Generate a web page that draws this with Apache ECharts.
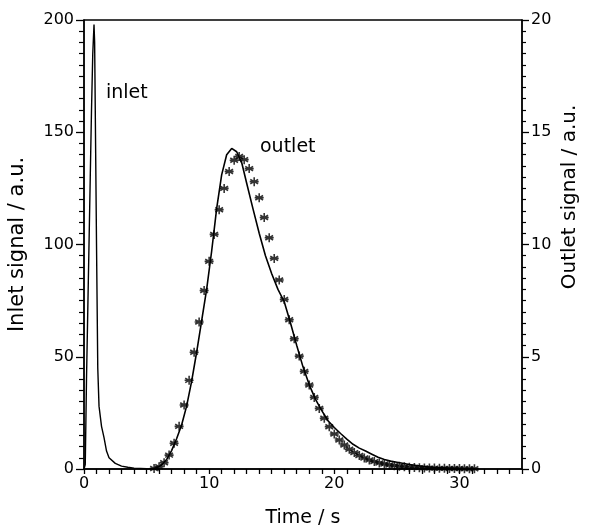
<!DOCTYPE html>
<html>
<head>
<meta charset="utf-8">
<script src="https://cdn.jsdelivr.net/npm/echarts@6/dist/echarts.min.js"></script>
<style>html,body{margin:0;padding:0;background:#fff;}#c{width:592px;height:529px;}</style>
</head>
<body>
<div id="c"></div>
<script>
// Inlet signal (left axis)
var inletTime  = [0, 0.1, 0.2, 0.3, 0.4, 0.5, 0.6, 0.7, 0.8, 0.85, 0.9, 1.0, 1.1, 1.2, 1.4, 1.6, 1.8, 2.0, 2.5, 3.0, 3.5, 4.0, 5.0, 6.0];
var inletValue = [0, 2, 40, 70, 100, 130, 160, 185, 198, 190, 160, 100, 45, 28, 19, 14, 8, 5, 2.5, 1.3, 0.8, 0.4, 0.1, 0];

// Outlet model curve (right axis)
var modelTime  = [5.4, 5.8, 6.2, 6.6, 7.0, 7.4, 7.8, 8.2, 8.6, 9.0, 9.4, 9.8, 10.2, 10.6, 11.0, 11.4, 11.8, 12.2, 12.6, 13.0, 13.5, 14.0, 14.5, 15.0, 15.5, 16.0, 16.5, 17.0, 17.5, 18.0, 18.5, 19.0, 19.5, 20.0, 20.5, 21.0, 21.5, 22.0, 22.5, 23.0, 23.5, 24.0, 24.5, 25.0, 26.0, 27.0, 28.0, 29.0, 30.0, 31.2];
var modelValue = [0, 0.05, 0.18, 0.42, 0.82, 1.35, 1.96, 2.8, 3.9, 5.2, 6.6, 8.0, 9.7, 11.6, 13.1, 14.0, 14.28, 14.13, 13.65, 12.73, 11.6, 10.5, 9.5, 8.7, 8.0, 7.45, 6.5, 5.5, 4.55, 3.75, 3.1, 2.6, 2.15, 1.85, 1.58, 1.33, 1.1, 0.93, 0.8, 0.66, 0.52, 0.42, 0.35, 0.3, 0.2, 0.12, 0.07, 0.04, 0.02, 0.01];

// Outlet measured points (right axis)
var measTime  = [5.6, 6.0, 6.4, 6.8, 7.2, 7.6, 8.0, 8.4, 8.8, 9.2, 9.6, 10.0, 10.4, 10.8, 11.2, 11.6, 12.0, 12.4, 12.8, 13.2, 13.6, 14.0, 14.4, 14.8, 15.2, 15.6, 16.0, 16.4, 16.8, 17.2, 17.6, 18.0, 18.4, 18.8, 19.2, 19.6, 20.0, 20.4, 20.8, 21.2, 21.6, 22.0, 22.4, 22.8, 23.2, 23.6, 24.0, 24.4, 24.8, 25.2, 25.6, 26.0, 26.4, 26.8, 27.2, 27.6, 28.0, 28.4, 28.8, 29.2, 29.6, 30.0, 30.4, 30.8, 31.2];
var measValue = [0.02, 0.1, 0.28, 0.62, 1.15, 1.9, 2.85, 3.95, 5.2, 6.55, 7.95, 9.25, 10.45, 11.55, 12.5, 13.25, 13.75, 13.92, 13.78, 13.38, 12.8, 12.08, 11.2, 10.3, 9.38, 8.42, 7.55, 6.65, 5.8, 5.03, 4.35, 3.74, 3.19, 2.7, 2.26, 1.88, 1.56, 1.29, 1.07, 0.88, 0.73, 0.6, 0.49, 0.4, 0.33, 0.27, 0.22, 0.18, 0.15, 0.12, 0.1, 0.08, 0.07, 0.06, 0.05, 0.04, 0.04, 0.03, 0.03, 0.02, 0.02, 0.02, 0.01, 0.01, 0.01];

var xLabelTicks = [0, 10, 20, 30];
var leftTicks = [0, 50, 100, 150, 200];
var rightTicks = [0, 5, 10, 15, 20];

function zip(a, b) { return a.map(function (v, i) { return [v, b[i]]; }); }

var FONT = 'DejaVu Sans';
var chart = echarts.init(document.getElementById('c'), null, { renderer: 'canvas' });
var asterisk = 'path://M0,-5L0,5M-4.33,-2.5L4.33,2.5M-4.33,2.5L4.33,-2.5M-5,0L5,0';

chart.setOption({
  animation: false,
  backgroundColor: '#fff',
  grid: { left: 84, right: 70, top: 20, bottom: 60, outerBoundsMode: 'none', containLabel: false,
          show: true, borderColor: '#000', borderWidth: 1.3, backgroundColor: 'transparent' },
  xAxis: {
    type: 'value', min: 0, max: 35, interval: 1,
    name: 'Time / s', nameLocation: 'middle', nameGap: 40,
    nameTextStyle: { fontFamily: FONT, fontSize: 19, color: '#000' },
    axisLine: { show: true, lineStyle: { color: '#000', width: 1.5 } },
    axisTick: { show: true, length: 5, lineStyle: { color: '#000', width: 1.3 } },
    axisLabel: {
      margin: 7, fontFamily: FONT, fontSize: 16, color: '#000',
      formatter: function (v) { return xLabelTicks.indexOf(v) >= 0 ? String(v) : ''; }
    },
    splitLine: { show: false }
  },
  yAxis: [{
    type: 'value', min: 0, max: 200, interval: 50, position: 'left',
    name: 'Inlet signal / a.u.', nameLocation: 'middle', nameGap: 56, nameRotate: 90,
    nameTextStyle: { fontFamily: FONT, fontSize: 21, color: '#000' },
    axisLine: { show: true, lineStyle: { color: '#000', width: 1.5 } },
    axisTick: { show: true, length: 8, lineStyle: { color: '#000', width: 1.3 } },
    minorTick: { show: true, splitNumber: 10, length: 5, lineStyle: { color: '#000', width: 1.2 } },
    axisLabel: { margin: 10, fontFamily: FONT, fontSize: 16, color: '#000',
      formatter: function (v) { return leftTicks.indexOf(v) >= 0 ? String(v) : ''; } },
    splitLine: { show: false }, minorSplitLine: { show: false }
  }, {
    type: 'value', min: 0, max: 20, interval: 5, position: 'right',
    axisLine: { show: true, lineStyle: { color: '#000', width: 1.5 } },
    axisTick: { show: true, length: 7, lineStyle: { color: '#000', width: 1.3 } },
    minorTick: { show: true, splitNumber: 10, length: 4, lineStyle: { color: '#000', width: 1.2 } },
    axisLabel: { margin: 9, fontFamily: FONT, fontSize: 16, color: '#000',
      formatter: function (v) { return rightTicks.indexOf(v) >= 0 ? String(v) : ''; } },
    splitLine: { show: false }, minorSplitLine: { show: false }
  }],
  graphic: [
    { type: 'text', left: 106, top: 84, style: { text: 'inlet', font: '19px "DejaVu Sans"', fill: '#000' } },
    { type: 'text', left: 260, top: 138, style: { text: 'outlet', font: '19px "DejaVu Sans"', fill: '#000' } },
    { type: 'text', x: 570, y: 197, rotation: Math.PI / 2,
      style: { text: 'Outlet signal / a.u.', font: '20px "DejaVu Sans"', fill: '#000', align: 'center', verticalAlign: 'middle' } }
  ],
  series: [{
    type: 'line', yAxisIndex: 0, data: zip(inletTime, inletValue), showSymbol: false,
    lineStyle: { color: '#000', width: 1.4 }, z: 3
  }, {
    type: 'line', yAxisIndex: 1, data: zip(modelTime, modelValue), showSymbol: false,
    lineStyle: { color: '#000', width: 1.6 }, z: 3
  }, {
    type: 'scatter', yAxisIndex: 1, data: zip(measTime, measValue),
    symbol: asterisk, symbolSize: 9, symbolKeepAspect: true,
    itemStyle: { color: 'rgba(0,0,0,0)', borderColor: '#000', borderWidth: 1.6 }, z: 4
  }]
});
</script>
</body>
</html>
